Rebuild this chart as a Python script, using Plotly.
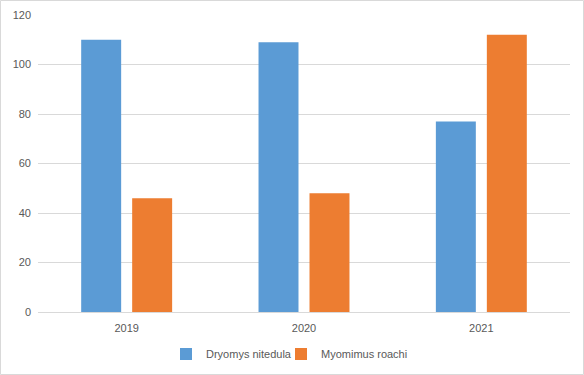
import plotly.graph_objects as go

years = ["2019", "2020", "2021"]
dryomys = [110, 109, 77]
myomimus = [46, 48, 112]
series_names = ["Dryomys nitedula", "Myomimus roachi"]

W, H = 584, 375
ml, mr, mt, mb = 38, 14, 15, 63
pw, ph = W - ml - mr, H - mt - mb

fig = go.Figure()
fig.add_bar(x=years, y=dryomys, name=series_names[0], marker_color="#5b9bd5",
            marker_line_width=0, legend="legend")
fig.add_bar(x=years, y=myomimus, name=series_names[1], marker_color="#ed7d31",
            marker_line_width=0, legend="legend2")

leg_common = dict(orientation="h", xref="container", yref="container", xanchor="left",
                  y=1 - 354 / H, yanchor="middle", font=dict(size=11, color="#595959"),
                  itemwidth=30, tracegroupgap=0, borderwidth=0, bgcolor="rgba(0,0,0,0)")

fig.update_layout(
    width=W, height=H,
    margin=dict(l=ml, r=mr, t=mt, b=mb, pad=0, autoexpand=False),
    paper_bgcolor="white", plot_bgcolor="white",
    barmode="group", bargap=0.425, bargroupgap=0.216,
    font=dict(family="Liberation Sans, Arial, sans-serif", size=11, color="#595959"),
    showlegend=True,
    legend=dict(x=166 / W, **leg_common),
    legend2=dict(x=281 / W, **leg_common),
    xaxis=dict(showgrid=False, showline=False, ticks="", zeroline=False, fixedrange=True,
               ticklabelstandoff=8, automargin=False),
    yaxis=dict(range=[0, 120], dtick=20, showgrid=True, gridcolor="#d9d9d9", gridwidth=1,
               zeroline=True, zerolinecolor="#d9d9d9", zerolinewidth=1, showline=False, ticks="",
               ticklabelstandoff=6, automargin=False, fixedrange=True),
)

fig.add_shape(type="rect", xref="paper", yref="paper",
              x0=(0.5 - ml) / pw, x1=(W - 0.5 - ml) / pw,
              y0=-(mb - 0.5) / ph, y1=1 + (mt - 0.5) / ph,
              line=dict(color="#d9d9d9", width=1), fillcolor="rgba(0,0,0,0)", layer="below")

fig.write_html("out.html", config={"displayModeBar": False},
               post_script="document.body.style.margin='0';document.body.style.overflow='hidden';")
